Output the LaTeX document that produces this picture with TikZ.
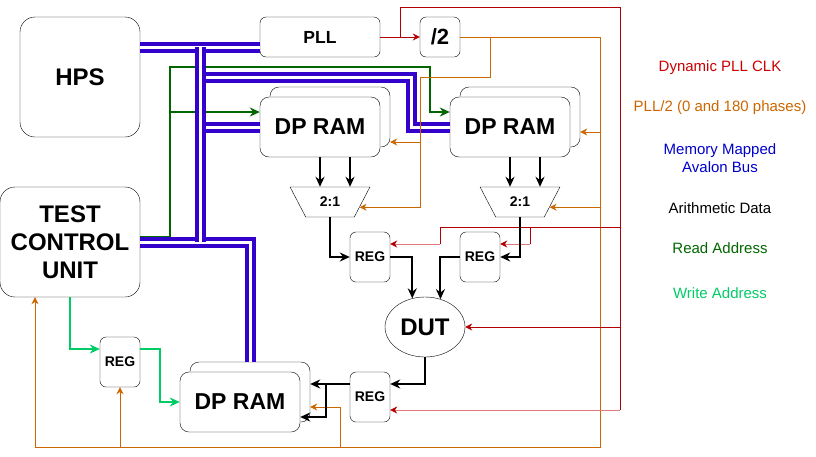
\documentclass[tikz,border=0pt]{standalone}
\usepackage{fontspec}
\setmainfont{Liberation Sans}
\usetikzlibrary{arrows.meta,shapes.geometric}
\definecolor{clkred}{HTML}{B20000}
\definecolor{clkpink}{HTML}{E07A7A}
\definecolor{halforange}{HTML}{CC6600}
\definecolor{busblue}{HTML}{3300CC}
\definecolor{rdgreen}{HTML}{006600}
\definecolor{wrgreen}{HTML}{00CC66}
\definecolor{legred}{HTML}{CC0000}
\definecolor{legblue}{HTML}{0000CC}

\begin{document}
\begin{tikzpicture}[x=1pt, y=-1pt,
    box/.style={draw, fill=white, rounded corners=6pt, inner sep=0pt, font=\bfseries\fontsize{14}{16}\selectfont},
    ram/.style={box, rounded corners=9pt, minimum width=120pt, minimum height=60pt, font=\bfseries\fontsize{23}{26}\selectfont},
    regbox/.style={box, minimum width=40pt, minimum height=50pt},
    mux/.style={draw, trapezium, trapezium angle=123.69, trapezium stretches=true, minimum width=80pt, minimum height=30pt, inner sep=0pt, font=\bfseries\fontsize{14}{16}\selectfont},
    datline/.style={line width=2pt, -{Stealth[length=10pt,width=9pt]}},
    pllclk/.style={clkred, line width=1pt, -{Stealth[length=7pt,width=7pt]}},
    clkline/.style={clkred, line width=1pt},
    clkfade/.style={clkpink, line width=1pt, -{Stealth[length=7pt,width=7pt,color=clkred]}},
    halfclk/.style={halforange, line width=1pt, -{Stealth[length=7pt,width=7pt]}},
    avbus/.style={busblue, line width=4pt, double=white, double distance=3pt},
    rdaddr/.style={rdgreen, line width=1.5pt, -{Stealth[length=10pt,width=9pt]}},
    wraddr/.style={wrgreen, line width=1.5pt, -{Stealth[length=10pt,width=9pt]}},
    legtext/.style={align=center, font=\fontsize{15}{17.5}\selectfont}]
\useasboundingbox (0,0) rectangle (816,456);

% blocks
\node[box, rounded corners=15pt, minimum width=120pt, minimum height=120pt, font=\bfseries\fontsize{24}{28}\selectfont] (hps) at (80,77) {HPS};
\node[box, rounded corners=15pt, minimum width=140pt, minimum height=110pt, align=center, font=\bfseries\fontsize{24}{28}\selectfont] (tcu) at (70,242) {TEST\\CONTROL\\UNIT};
\node[box, minimum width=120pt, minimum height=40pt, font=\bfseries\fontsize{17.5}{20}\selectfont] (pll) at (320,37) {PLL};
\node[box, minimum width=40pt, minimum height=40pt, font=\bfseries\fontsize{22}{26}\selectfont] (div) at (440,37) {/2};
\node[ram] (ram1b) at (330,117) {};
\node[ram] (ram1) at (320,127) {DP RAM};
\node[ram] (ram2b) at (520,117) {};
\node[ram] (ram2) at (510,127) {DP RAM};
\node[ram] (ram3b) at (250,392) {};
\node[ram] (ram3) at (240,402) {DP RAM};
\node[mux] (mux1) at (330,202) {2:1};
\node[mux] (mux2) at (520,202) {2:1};
\node[regbox] (reg1) at (370,257) {REG};
\node[regbox] (reg2) at (480,257) {REG};
\node[regbox] (reg3) at (370,397) {REG};
\node[regbox] (reg4) at (120,362) {REG};
\node[draw, ellipse, minimum width=80pt, minimum height=60pt, inner sep=0pt, font=\bfseries\fontsize{24}{28}\selectfont] (dut) at (425,327) {DUT};

% legend
\node[legtext, text=legred] (lclk) at (720,68) {Dynamic PLL CLK};
\node[legtext, text=halforange] (lhalf) at (720,108) {PLL/2 (0 and 180 phases)};
\node[legtext, text=legblue] (lbus) at (720,158) {Memory Mapped\\Avalon Bus};
\node[legtext] (ldata) at (720,208) {Arithmetic Data};
\node[legtext, text=rdgreen] (lrd) at (720,248) {Read Address};
\node[legtext, text=wrgreen] (lwr) at (720,293) {Write Address};

% read address
\coordinate (g1) at (170,67);
\coordinate (g2) at (430,67);
\coordinate (ra1) at ([yshift=15pt]ram1.west);
\draw[rdaddr] ([yshift=5pt]tcu.east) -| (g1) -- (g2) |- ([yshift=15pt]ram2.west);
\draw[rdaddr] (ra1 -| g1) -- (ra1);

% write address
\draw[wraddr] (tcu.south) |- ([yshift=13pt]reg4.west);
\draw[wraddr] ([yshift=13pt]reg4.east) -- ++(20,0) |- (ram3.west);

% avalon bus
\coordinate (b1) at (200,47);
\coordinate (b2) at (200,242);
\coordinate (b3) at (200,77);
\coordinate (b4) at (411,77);
\draw[avbus] ([yshift=30pt]hps.east) -- (b1 -| pll.west);
\draw[avbus] (b3) -- (b4) |- (ram2.west);
\draw[avbus] (ram1.west -| b1) -- (ram1.west);
\draw[avbus] (tcu.east) -| (ram3b.north);
\draw[avbus] (b1) -- (b2);

% pll/2 clock
\coordinate (o1) at (600,37);
\coordinate (o2) at (600,447);
\coordinate (o3) at (490,37);
\coordinate (o4) at (420,77);
\coordinate (o5) at (340,447);
\coordinate (h1) at (600,132);
\coordinate (h3) at (420,142);
\draw[halfclk] (div.east) -| (o2) -| ([xshift=-35pt]tcu.south);
\draw[halfclk] (o2) -| (reg4.south);
\draw[halfclk] (o5) |- ([yshift=-15pt]ram3b.east);
\draw[halfclk] (h1) -- (h1 -| ram2b.east);
\draw[halfclk] (mux2.-10.6 -| o1) -- (mux2.-10.6);
\draw[halfclk] (o3) |- (o4) |- (mux1.-10.6);
\draw[halfclk] (h3) -- (h3 -| ram1b.east);

% dynamic pll clock
\coordinate (r0) at (400,37);
\coordinate (r1) at (620,7);
\coordinate (r2) at (620,410);
\coordinate (r3) at (620,227);
\coordinate (r4) at (440,227);
\coordinate (r5) at (530,227);
\coordinate (r6) at (440,244);
\coordinate (r7) at (530,244);
\draw[pllclk] (pll.east) -- (div.west);
\draw[clkline] (r0) |- (r1) -- (r2);
\draw[clkfade] (r2) -- (r2 -| reg3.east);
\draw[pllclk] (dut.east -| r1) -- (dut.east);
\draw[clkline] (r3) -- (r4) -- (r6);
\draw[clkline] (r5) -- (r7);
\draw[clkfade] (r6) -- (r6 -| reg1.east);
\draw[clkfade] (r7) -- (r7 -| reg2.east);

% arithmetic data
\coordinate (d1) at ([xshift=30pt]ram1.south);
\coordinate (d2) at ([xshift=30pt]ram2.south);
\draw[datline] (ram1.south) -- (ram1.south |- mux1.north);
\draw[datline] (d1) -- (d1 |- mux1.north);
\draw[datline] (ram2.south) -- (ram2.south |- mux2.north);
\draw[datline] (d2) -- (d2 |- mux2.north);
\draw[datline] (mux1.south) |- (reg1.west);
\draw[datline] (mux2.south) |- (reg2.east);
\draw[datline] (reg1.east) -| (dut.114.6);
\draw[datline] (reg2.west) -| (dut.61.6);
\coordinate (d3) at ([yshift=13pt]reg3.east);
\coordinate (d4) at ([yshift=13pt]reg3.west);
\coordinate (split) at (326,384);
\draw[datline] (dut.south) |- (d3);
\draw[datline] (d4) -- (d4 -| ram3b.east);
\draw[datline] (split) |- ([yshift=-15pt]ram3.east);
\end{tikzpicture}
\end{document}
